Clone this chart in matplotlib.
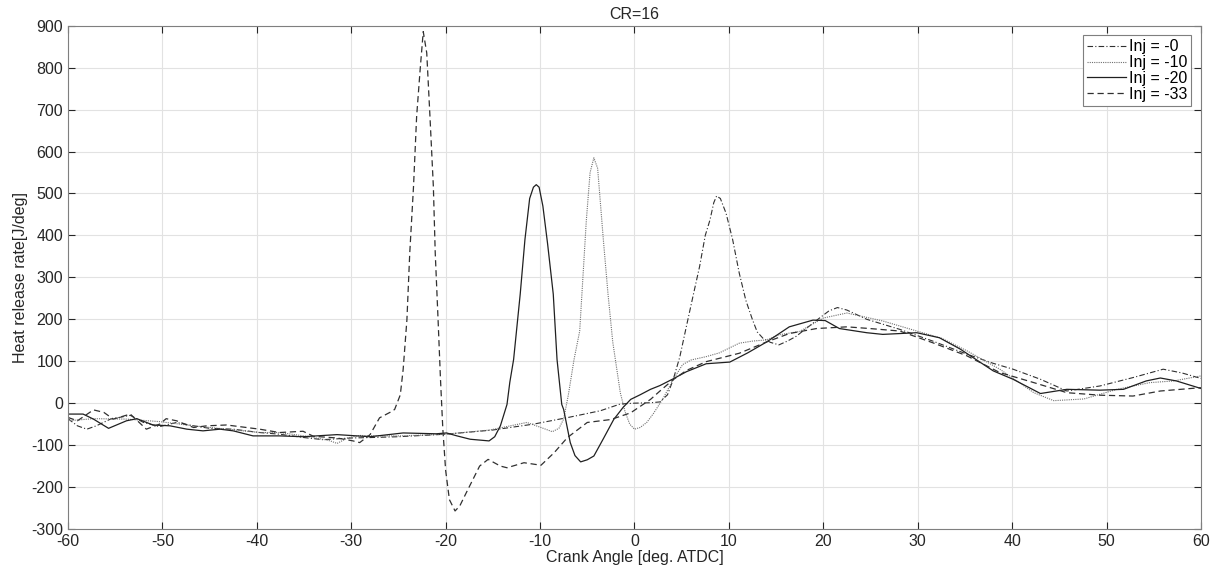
import matplotlib
matplotlib.use("Agg")
import matplotlib.pyplot as plt

plt.rcParams['font.family'] = ['Liberation Sans', 'DejaVu Sans']
plt.rcParams['axes.unicode_minus'] = False

# Inj = -0  (dash-dot)
x_inj0 = [-60, -59, -58, -57, -55.5, -53.4, -52, -50.3, -48.5, -46.7, -45, -42.5, -39.7, -37.6, -35, -33, -30, -28, -25,
          -20, -15, -10.7, -7, -3.6, -1.5, 0, 1.7, 2.7, 3.5, 4.1, 4.8, 5.5, 6.2, 6.9, 7.5, 8.0, 8.4, 8.7, 9.1, 9.7, 10.4,
          11.1, 11.8, 12.5, 13.0, 13.6, 14.4, 15.3, 16.2, 17.1, 18.3, 19.6, 20.6, 21.5, 22.5, 24.6, 28.1, 31.6, 35.2,
          38, 40.1, 43, 45.8, 49.3, 52.8, 56, 58, 60]
y_inj0 = [-37, -54, -62, -54, -38, -29, -46, -56, -46, -54, -60, -62, -70, -74, -82, -87, -83, -82, -80,
          -74, -64, -50, -34, -18, -2, 0, 1, 3, 20, 56, 110, 183, 255, 326, 400, 437, 478, 494, 488, 453, 390,
          310, 245, 199, 170, 155, 145, 139, 148, 159, 180, 203, 220, 228, 222, 200, 176, 148, 117,
          95, 81, 57, 29, 41, 61, 81, 72, 59]

# Inj = -10 (dotted)
x_inj10 = [-60, -57.3, -53.8, -50.3, -46.7, -43.2, -39.7, -37.6, -35, -33, -32.2, -31.5, -30.4, -29.1, -27, -24.8,
           -20, -15.3, -11.4, -9.9, -8.7, -8.0, -7.5, -7.0, -6.4, -5.8, -5.1, -4.7, -4.3, -3.9, -3.3, -2.8, -2.3,
           -1.5, -1.0, -0.5, 0, 0.6, 1.3, 2.0, 3.0, 4.1, 5.1, 6.0, 7.6, 9.0, 11.1, 12.5, 14, 15.3, 17.5, 20, 22.5,
           24.9, 26.3, 29.9, 32.5, 35.2, 38.7, 42.3, 44.4, 47.6, 51.1, 54.6, 57.1, 60]
y_inj10 = [-42, -37, -38, -44, -54, -62, -70, -70, -78, -86, -90, -96, -83, -77, -78, -78,
           -74, -64, -46, -58, -68, -60, -38, 20, 104, 172, 435, 550, 585, 560, 391, 260, 146,
           25, -20, -50, -62, -58, -46, -25, 10, 56, 92, 103, 111, 120, 143, 148, 151, 163, 171, 203, 215,
           203, 196, 172, 155, 125, 81, 25, 6, 10, 33, 49, 53, 65]

# Inj = -20 (solid)
x_inj20 = [-60, -58.4, -57.3, -55.7, -53.8, -52.7, -51, -49.2, -47.4, -45.7, -43.9, -42.5, -40.4, -37.6, -35.1,
           -31.5, -28, -24.5, -21, -19.9, -18.8, -17.4, -15.4, -14.8, -14.2, -13.5, -13.2, -12.8, -12.1, -11.6,
           -11.1, -10.7, -10.4, -10.1, -9.7, -9.2, -8.6, -8.2, -7.7, -7.5, -6.8, -6.3, -5.7, -5.0, -4.3, -3.3,
           -2.2, -1.2, -0.4, 0.6, 1.7, 2.7, 4.1, 5.5, 7.6, 10.1, 12, 14, 16.4, 18.9, 20.2, 21.7, 24.6, 26.3,
           29.9, 32.3, 34.5, 38, 40.1, 43, 45.8, 49.3, 51.8, 54.2, 55.7, 57.4, 60]
y_inj20 = [-26, -26, -38, -60, -42, -37, -52, -54, -62, -66, -62, -66, -78, -78, -80,
           -75, -80, -71, -73, -71, -78, -86, -90, -80, -54, -3, 50, 104, 260, 390,
           488, 515, 521, 515, 470, 380, 260, 104, -3, -15, -94, -125, -140, -135, -126, -85,
           -39, -10, 9, 20, 33, 42, 58, 75, 94, 98, 120, 146, 182, 198, 197, 178, 168, 164,
           168, 156, 129, 77, 57, 23, 33, 31, 33, 53, 60, 53, 35]

# Inj = -33 (dashed)
x_inj33 = [-60, -59, -57.3, -56.2, -55.2, -53.4, -51.7, -50.3, -49.6, -48.5, -46.7, -45.3, -43.2, -41.1, -39.7,
           -37.6, -35.1, -34, -31.5, -29.8, -29.1, -28, -27, -25.9, -25.4, -24.8, -24.5, -24.1, -23.8, -23.4,
           -23.07, -22.7, -22.37, -22.0, -21.66, -21.3, -21.1, -20.8, -20.55, -20.3, -20.0, -19.6, -19.0, -18.5,
           -17.8, -16.4, -15.5, -14.2, -13.5, -11.7, -9.9, -8.5, -7.1, -5.0, -2.5, -0.4, 1.7, 2.7, 4.1, 5.5,
           7.6, 11.1, 14, 16.4, 19.3, 22.5, 24.9, 28.1, 31.6, 35.2, 38.7, 42.3, 45.8, 49.3, 52.8, 55.7, 60]
y_inj33 = [-34, -42, -16, -22, -38, -26, -62, -50, -37, -42, -58, -54, -52, -58, -62,
           -70, -67, -79, -83, -90, -94, -75, -35, -22, -15, 20, 80, 199, 358, 517,
           684, 795, 886, 835, 684, 517, 358, 199, 60, -60, -160, -230, -257, -245,
           -213, -150, -134, -150, -154, -142, -148, -118, -82, -46, -39, -23, 9, 29, 56, 78,
           99, 119, 146, 166, 178, 182, 178, 172, 144, 113, 73, 49, 25, 19, 17, 29, 37]

labels = ['Inj = -0', 'Inj = -10', 'Inj = -20', 'Inj = -33']

fig = plt.figure(figsize=(12.18, 5.78), dpi=100)
ax = fig.add_axes([0.0558, 0.0848, 0.9302, 0.8707])

ax.plot(x_inj0, y_inj0, color='#303030', lw=0.8, linestyle=(0, (5, 2, 1, 2)), label=labels[0])
ax.plot(x_inj10, y_inj10, color='#707070', lw=0.8, linestyle=(0, (1, 1)), label=labels[1])
ax.plot(x_inj20, y_inj20, color='#202020', lw=0.9, linestyle='-', label=labels[2])
ax.plot(x_inj33, y_inj33, color='#303030', lw=0.9, linestyle=(0, (5, 3)), label=labels[3])

ax.set_xlim(-60, 60)
ax.set_ylim(-300, 900)
ax.set_xticks(range(-60, 61, 10))
ax.set_yticks(range(-300, 901, 100))
ax.grid(True, color='#e2e2e2', lw=0.8)
ax.set_axisbelow(True)
ax.tick_params(direction='in', top=True, right=True, length=5, labelsize=11.5,
               colors='#262626', width=0.8)
for s in ax.spines.values():
    s.set_color('#7f7f7f')
    s.set_linewidth(0.8)

ax.set_title('CR=16', fontsize=11.5, color='#262626', pad=5)
ax.set_xlabel('Crank Angle [deg. ATDC]', fontsize=11.5, color='#262626', labelpad=1)
ax.set_ylabel('Heat release rate[J/deg]', fontsize=11.5, color='#262626', labelpad=2)

leg = ax.legend(loc='upper right', fontsize=11.5, handlelength=2.4, handletextpad=0.2,
                labelspacing=0.05, borderpad=0.25, borderaxespad=0.6, fancybox=False,
                framealpha=1)
leg.get_frame().set_edgecolor('#7f7f7f')
leg.get_frame().set_linewidth(0.8)

fig.savefig('out.png', dpi=100)
